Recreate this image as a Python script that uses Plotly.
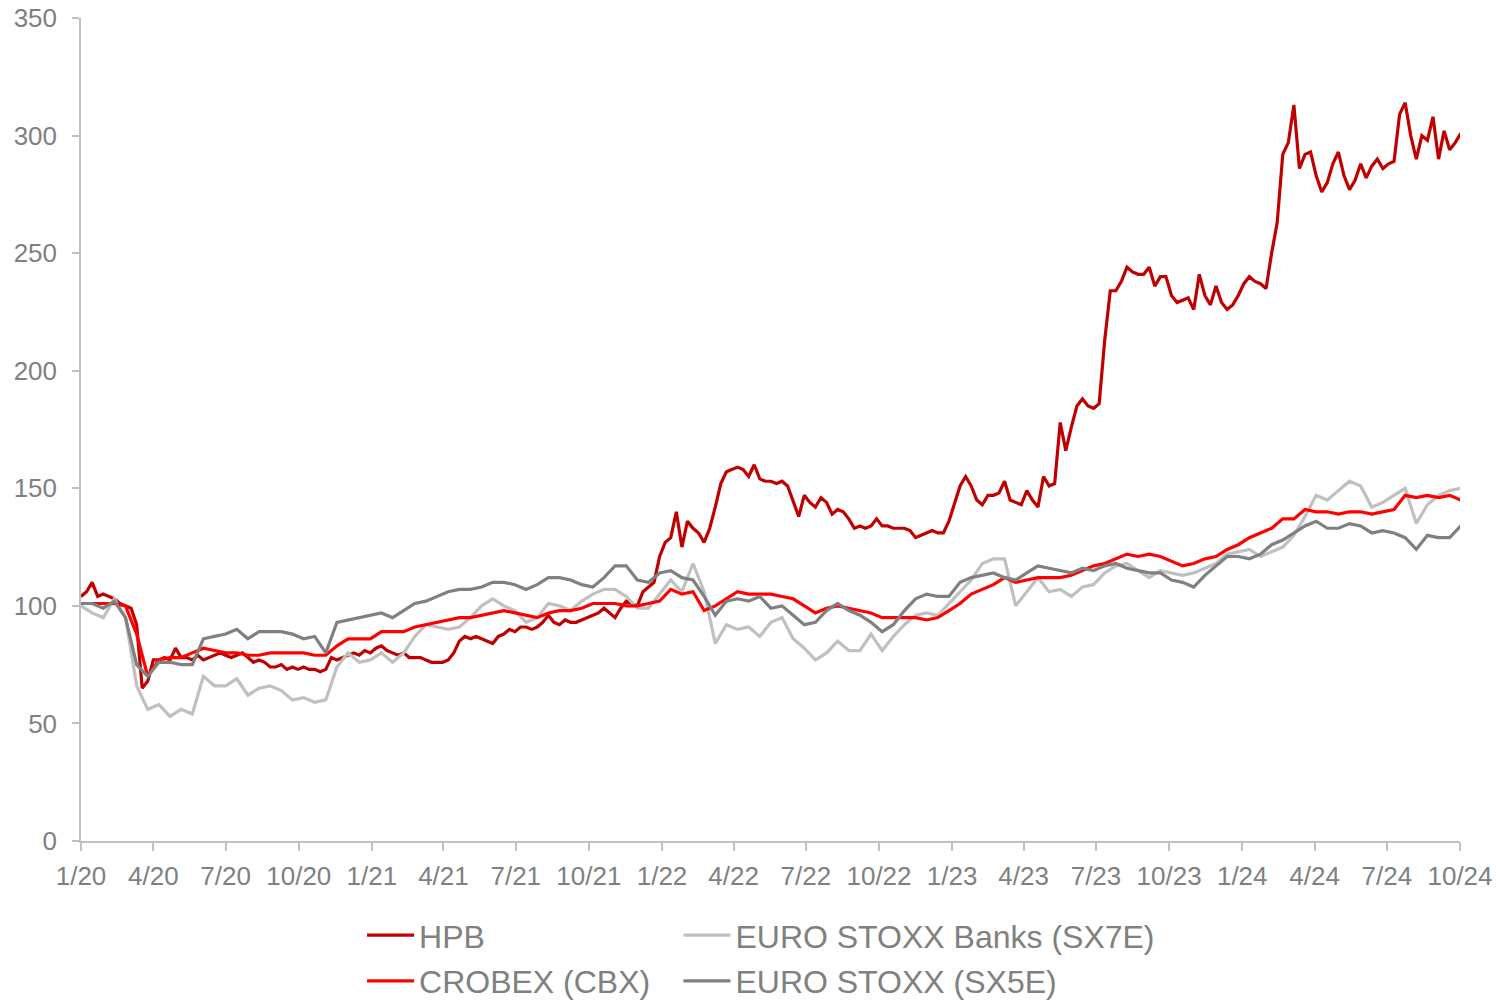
import pandas as pd
import plotly.graph_objects as go

# observation dates: weekly for HPB, biweekly for the indices
dates_w = pd.date_range("2020-01-01", periods=249, freq="7D")
dates = pd.date_range("2020-01-01", periods=125, freq="14D")

hpb = [104, 106, 110, 104, 105, 104, 103, 101, 100, 99, 92, 65, 68, 77, 77, 78, 77, 82, 78, 78,
       77, 79, 77, 78, 79, 80, 79, 78, 79, 80, 78, 76, 77, 76, 74, 74, 75, 73, 74, 73,
       74, 73, 73, 72, 73, 78, 77, 78, 79, 80, 79, 81, 80, 82, 83, 81, 80, 79, 80, 78,
       78, 78, 77, 76, 76, 76, 77, 80, 85, 87, 86, 87, 86, 85, 84, 87, 88, 90, 89, 91,
       91, 90, 91, 93, 96, 93, 92, 94, 93, 93, 94, 95, 96, 97, 99, 97, 95, 99, 102, 101,
       100, 106, 108, 110, 121, 127, 129, 140, 125, 136, 133, 131, 127, 133, 142, 152, 157, 158, 159, 158,
       155, 160, 154, 153, 153, 152, 153, 151, 144, 138, 147, 144, 142, 146, 144, 139, 141, 140, 137, 133,
       134, 133, 134, 137, 134, 134, 133, 133, 133, 132, 129, 130, 131, 132, 131, 131, 136, 143, 151, 155,
       151, 145, 143, 147, 147, 148, 153, 145, 144, 143, 149, 145, 142, 155, 151, 152, 178, 166, 176, 185,
       188, 185, 184, 186, 213, 234, 234, 238, 244, 242, 241, 241, 244, 236, 240, 240, 232, 229, 230, 231,
       226, 241, 232, 228, 236, 229, 226, 228, 232, 237, 240, 238, 237, 235, 250, 263, 292, 297, 313, 286,
       292, 293, 283, 276, 280, 288, 293, 283, 277, 281, 288, 282, 287, 290, 286, 288, 289, 309, 314, 300,
       290, 300, 298, 308, 290, 302, 294, 297, 301]

crobex = [101, 101, 101, 101, 100, 88, 70, 77, 78, 78, 80, 82, 81, 80, 80, 79, 79, 80, 80, 80,
          80, 79, 79, 83, 86, 86, 86, 89, 89, 89, 91, 92, 93, 94, 95, 95, 96, 97, 98, 97,
          96, 95, 97, 98, 98, 99, 101, 101, 101, 100, 100, 101, 102, 107, 105, 106, 98, 100, 103, 106,
          105, 105, 105, 104, 103, 100, 97, 99, 100, 99, 98, 97, 95, 95, 95, 95, 94, 95, 98, 101,
          105, 107, 109, 112, 110, 111, 112, 112, 112, 113, 115, 117, 118, 120, 122, 121, 122, 121, 119, 117,
          118, 120, 121, 124, 126, 129, 131, 133, 137, 137, 141, 140, 140, 139, 140, 140, 139, 140, 141, 147,
          146, 147, 146, 147, 145]

sx7e = [100, 97, 95, 103, 95, 66, 56, 58, 53, 56, 54, 70, 66, 66, 69, 62, 65, 66, 64, 60,
        61, 59, 60, 74, 80, 76, 77, 80, 76, 80, 87, 92, 91, 90, 91, 95, 100, 103, 100, 98,
        93, 95, 101, 100, 98, 102, 105, 107, 107, 104, 99, 99, 105, 111, 106, 118, 106, 84, 92, 90,
        91, 87, 93, 95, 86, 82, 77, 80, 85, 81, 81, 88, 81, 87, 92, 96, 97, 96, 101, 106,
        111, 118, 120, 120, 100, 106, 112, 106, 107, 104, 108, 109, 114, 117, 118, 115, 112, 115, 114, 113,
        114, 116, 118, 122, 123, 124, 121, 123, 125, 130, 138, 147, 145, 149, 153, 151, 142, 144, 147, 150,
        135, 143, 147, 149, 150]

sx5e = [101, 101, 99, 102, 95, 75, 70, 76, 76, 75, 75, 86, 87, 88, 90, 86, 89, 89, 89, 88,
        86, 87, 80, 93, 94, 95, 96, 97, 95, 98, 101, 102, 104, 106, 107, 107, 108, 110, 110, 109,
        107, 109, 112, 112, 111, 109, 108, 112, 117, 117, 111, 110, 114, 115, 112, 111, 104, 96, 102, 103,
        102, 104, 99, 100, 96, 92, 93, 98, 101, 98, 96, 93, 89, 92, 98, 103, 105, 104, 104, 110,
        112, 113, 114, 112, 111, 114, 117, 116, 115, 114, 116, 115, 117, 118, 116, 115, 114, 114, 111, 110,
        108, 113, 117, 121, 121, 120, 122, 126, 128, 131, 134, 136, 133, 133, 135, 134, 131, 132, 131, 129,
        124, 130, 129, 129, 134]

series = [
    ("HPB", dates_w, hpb, "#C00000", "legend"),
    ("EURO STOXX Banks (SX7E)", dates, sx7e, "#C0C0C0", "legend2"),
    ("CROBEX (CBX)", dates, crobex, "#FF0000", "legend"),
    ("EURO STOXX (SX5E)", dates, sx5e, "#808080", "legend2"),
]

FONT = "Liberation Sans, Arial, sans-serif"
GREY_TXT = "#808080"

fig = go.Figure()
for name, xs, vals, color, lg in series:
    fig.add_trace(go.Scatter(x=xs, y=vals, name=name, mode="lines", legendgroup=name,
                             line=dict(color=color, width=3.2), legend=lg))

legend_common = dict(orientation="v", yanchor="top", xanchor="left",
                     xref="container", yref="container",
                     font=dict(family=FONT, size=32, color=GREY_TXT),
                     bgcolor="rgba(0,0,0,0)", itemwidth=47, tracegroupgap=1)

fig.update_layout(
    width=1496, height=1001,
    margin=dict(l=81, r=36, t=18, b=160, autoexpand=False),
    paper_bgcolor="white", plot_bgcolor="white",
    font=dict(family=FONT, color=GREY_TXT),
    legend=dict(x=0.242, y=0.093, **legend_common),
    legend2=dict(x=0.4535, y=0.093, **legend_common),
    showlegend=True,
)
fig.update_xaxes(
    range=["2020-01-01", "2024-10-01"],
    tick0="2020-01-01", dtick="M3", tickformat="%-m/%y",
    ticks="outside", ticklen=8, tickcolor="#C0C0C0", tickwidth=1.5,
    showline=True, linecolor="#C0C0C0", linewidth=1.5,
    showgrid=False, zeroline=False, automargin=False,
    tickfont=dict(family=FONT, size=26, color=GREY_TXT),
    ticklabelstandoff=3,
)
fig.update_yaxes(
    range=[0, 350], dtick=50,
    ticks="outside", ticklen=7, tickcolor="#C0C0C0", tickwidth=1.5,
    showline=True, linecolor="#C0C0C0", linewidth=1.5,
    showgrid=False, zeroline=False, automargin=False,
    tickfont=dict(family=FONT, size=26, color=GREY_TXT),
    ticklabelstandoff=10,
)

fig.write_html("out.html", config={"displayModeBar": False},
               post_script="document.body.style.margin='0';")
